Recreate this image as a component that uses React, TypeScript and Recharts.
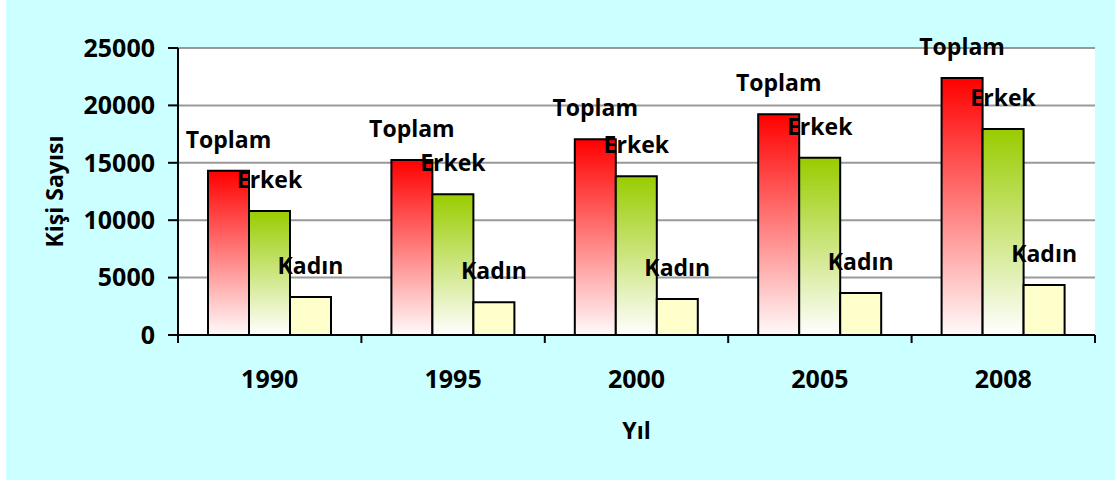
import React from 'react';
import { BarChart, Bar, XAxis, YAxis, CartesianGrid, LabelList } from 'recharts';

const years = ['1990', '1995', '2000', '2005', '2008'];
const toplam = [14300, 15250, 17050, 19230, 22390];
const erkek = [10800, 12260, 13830, 15440, 17950];
const kadin = [3310, 2850, 3140, 3660, 4360];
const yTicks = [0, 5000, 10000, 15000, 20000, 25000];

const data = years.map((yil, i) => ({
  yil,
  Toplam: toplam[i],
  Erkek: erkek[i],
  Kadin: kadin[i],
}));

const FONT = "'Open Sans', 'Noto Sans', sans-serif";

const seriesLabel = (name: string) => (props: any) => {
  const x = Number(props.x) + Number(props.width) / 2;
  const y = Number(props.y) - 23;
  return (
    <text x={x} y={y} textAnchor="middle" fontSize={23} fontWeight={700} fill="#000" fontFamily={FONT}>
      {name}
    </text>
  );
};

// category boundary ticks like the excel original, plus the year label
const YearTick = (props: any) => {
  const { x, y, payload } = props;
  const half = payload.offset ?? 91.7;
  const axisY = y - 35;
  const isLast = payload.value === years[years.length - 1];
  return (
    <g>
      <line x1={x - half} x2={x - half} y1={axisY} y2={axisY + 8} stroke="#000" strokeWidth={2} />
      {isLast && <line x1={x + half} x2={x + half} y1={axisY} y2={axisY + 8} stroke="#000" strokeWidth={2} />}
      <text x={x} y={y} dy="0.71em" textAnchor="middle" fontSize={25} fontWeight={700} fill="#000" fontFamily={FONT}>
        {payload.value}
      </text>
    </g>
  );
};

export default function App() {
  return (
    <div style={{ position: 'fixed', left: 0, top: 0, width: 1115, height: 482, background: '#fff' }}>
      <div style={{ position: 'absolute', left: 6, top: 0, width: 1109, height: 480, background: '#CCFFFF' }} />
      <div style={{ position: 'absolute', left: 0, top: 0 }}>
        <BarChart
          width={1115}
          height={482}
          data={data}
          margin={{ top: 48, right: 20, left: 0, bottom: 0 }}
          barCategoryGap={30}
          barGap={0}
        >
          <defs>
            <linearGradient id="gToplam" x1="0" y1="0" x2="0" y2="1">
              <stop offset="0%" stopColor="#FF0000" />
              <stop offset="100%" stopColor="#FFFAFA" />
            </linearGradient>
            <linearGradient id="gErkek" x1="0" y1="0" x2="0" y2="1">
              <stop offset="0%" stopColor="#99CC00" />
              <stop offset="100%" stopColor="#FFFFFF" />
            </linearGradient>
          </defs>
          <CartesianGrid vertical={false} stroke="#999" strokeWidth={2} fill="#fff" />
          <XAxis
            dataKey="yil"
            height={147}
            tickLine={false}
            tickSize={8}
            tickMargin={27}
            axisLine={{ stroke: '#000', strokeWidth: 2 }}
            tick={<YearTick />}
            interval={0}
            label={{ value: 'Yıl', position: 'insideBottom', offset: 43, fontSize: 23, fontWeight: 700, fill: '#000', fontFamily: FONT }}
          />
          <YAxis
            width={178}
            domain={[0, 25000]}
            ticks={yTicks}
            interval={0}
            tickSize={10}
            tickMargin={13}
            tickLine={{ stroke: '#000', strokeWidth: 2 }}
            axisLine={{ stroke: '#000', strokeWidth: 2 }}
            tick={{ fontSize: 25, fontWeight: 700, fill: '#000', fontFamily: FONT }}
            label={{
              value: 'Kişi Sayısı',
              angle: -90,
              position: 'insideLeft',
              offset: 55,
              fontSize: 23,
              fontWeight: 700,
              fill: '#000',
              fontFamily: FONT,
              style: { textAnchor: 'middle' },
            }}
          />
          <YAxis
            yAxisId="right"
            orientation="right"
            width={0}
            domain={[0, 25000]}
            tick={false}
            tickLine={false}
            axisLine={{ stroke: '#999', strokeWidth: 2 }}
          />
          <Bar dataKey="Toplam" fill="url(#gToplam)" stroke="#000" strokeWidth={2} isAnimationActive={false}>
            <LabelList dataKey="Toplam" content={seriesLabel('Toplam')} />
          </Bar>
          <Bar dataKey="Erkek" fill="url(#gErkek)" stroke="#000" strokeWidth={2} isAnimationActive={false}>
            <LabelList dataKey="Erkek" content={seriesLabel('Erkek')} />
          </Bar>
          <Bar dataKey="Kadin" name="Kadın" fill="#FFFFCC" stroke="#000" strokeWidth={2} isAnimationActive={false}>
            <LabelList dataKey="Kadin" content={seriesLabel('Kadın')} />
          </Bar>
        </BarChart>
      </div>
    </div>
  );
}
